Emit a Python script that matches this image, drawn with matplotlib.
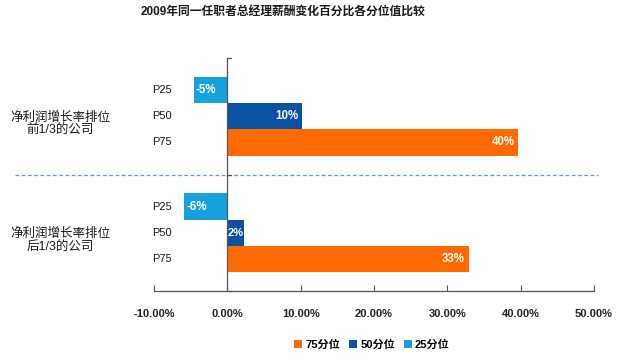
import matplotlib
matplotlib.use("Agg")
import matplotlib.pyplot as plt
from matplotlib.lines import Line2D
from matplotlib.patches import Patch
import matplotlib.transforms as mtransforms

plt.rcParams['font.family'] = ['Liberation Sans', 'Noto Sans CJK SC', 'DejaVu Sans']

title = "2009年同一任职者总经理薪酬变化百分比各分位值比较"
groups = ["净利润增长率排位\n前1/3的公司", "净利润增长率排位\n后1/3的公司"]
percentiles = ["P25", "P50", "P75"]
series_names = ["75分位", "50分位", "25分位"]
# values (%) per group for P25, P50, P75
p25 = [-4.6, -5.9]
p50 = [10.2, 2.3]
p75 = [39.7, 32.9]
x_ticks = [-10, 0, 10, 20, 30, 40, 50]
x_tick_labels = ["-10.00%", "0.00%", "10.00%", "20.00%", "30.00%", "40.00%", "50.00%"]

c75 = "#FF6A00"
c50 = "#0B52A3"
c25 = "#16A0DC"

W, H = 618, 362
fig = plt.figure(figsize=(W / 100, H / 100), dpi=100)
left, right, top, bottom = 154, 594, 58, 291
ax = fig.add_axes([left / W, 1 - bottom / H, (right - left) / W, (bottom - top) / H])

bh = 0.225
offsets = {"P25": -bh, "P50": 0.0, "P75": bh}
colors = {"P25": c25, "P50": c50, "P75": c75}
data = {"P25": p25, "P50": p50, "P75": p75}

for gi in range(len(groups)):
    for p in percentiles:
        v = data[p][gi]
        y = gi + offsets[p]
        ax.barh(y, v, height=bh, color=colors[p], edgecolor='none', zorder=2)
        lbl = f"{round(v):d}%"
        if v >= 0 and v < 4:
            ax.text(v / 2, y, lbl, ha='center', va='center', color='white',
                    fontsize=8, fontweight='bold', zorder=3)
        elif v >= 0:
            ax.text(v - 0.5, y, lbl, ha='right', va='center', color='white',
                    fontsize=8.3, fontweight='bold', zorder=3)
        else:
            ax.text(v + 0.3, y, lbl, ha='left', va='center', color='white',
                    fontsize=8.3, fontweight='bold', zorder=3)

ax.set_xlim(-10, 50)
ax.set_ylim(1.5, -0.5)

for s in ['top', 'right', 'left']:
    ax.spines[s].set_visible(False)
ax.spines['bottom'].set_color('#555555')
ax.spines['bottom'].set_linewidth(0.9)

ax.set_xticks(x_ticks)
ax.set_xticklabels(x_tick_labels, fontsize=8, fontweight='bold', color='#222222')
ax.tick_params(axis='x', direction='in', length=4, pad=13, color='#555555')
ax.set_yticks([])

# vertical axis at x=0
ax.axvline(0, color='#555555', linewidth=0.9, zorder=4)
for yb in [-0.5, 0.5, 1.5]:
    ax.plot([0, 0.55], [yb, yb], color='#555555', linewidth=0.9, zorder=4, clip_on=False)

# dashed separator
x0 = (15 - left) / (right - left)
x1 = (598 - left) / (right - left)
trans = mtransforms.blended_transform_factory(ax.transAxes, ax.transData)
ax.add_line(Line2D([x0, x1], [0.5, 0.5], transform=trans, color='#55A6CC',
                   linestyle=(0, (3, 2)), linewidth=0.9, clip_on=False, zorder=1))

# percentile labels
xl = (172 - left) / (right - left)
for gi in range(len(groups)):
    for p in percentiles:
        ax.text(xl, gi + offsets[p], p, transform=trans, ha='right', va='center',
                fontsize=8, color='#1a1a1a')

# group labels
xg = (60 - left) / (right - left)
for gi, g in enumerate(groups):
    ax.text(xg, gi + 0.07, g, transform=trans, ha='center', va='center',
            fontsize=9, color='#1a1a1a', linespacing=1.15)

fig.text(283 / W, 1 - 12 / H, title, ha='center', va='center', fontsize=8.5,
         fontweight='bold', color='#1a1a1a')

handles = [Patch(facecolor=c75), Patch(facecolor=c50), Patch(facecolor=c25)]
fig.legend(handles, series_names, loc='center', bbox_to_anchor=(372 / W, 1 - 345 / H),
           ncol=3, frameon=False, handlelength=0.7, handleheight=0.7,
           handletextpad=0.3, columnspacing=0.8,
           prop={'weight': 'bold', 'size': 8})

fig.savefig("out.png", dpi=100, facecolor='white')
